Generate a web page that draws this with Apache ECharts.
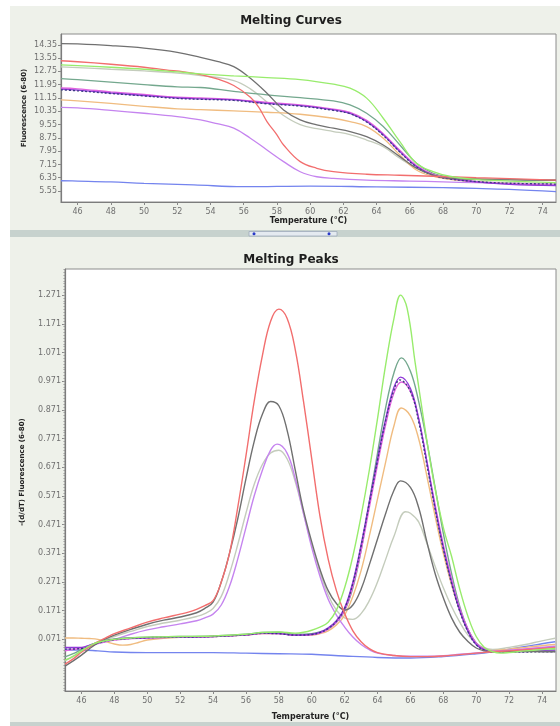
<!DOCTYPE html>
<html>
<head>
<meta charset="utf-8">
<script src="https://cdn.jsdelivr.net/npm/echarts@6/dist/echarts.min.js"></script>
<style>html,body{margin:0;padding:0;background:#fff}#c{width:560px;height:726px}</style>
</head>
<body>
<div id="c"></div>
<script>
// ---- tick labels ----
const tempTicks = [46,48,50,52,54,56,58,60,62,64,66,68,70,72,74];
const fluorTicks = [14.35,13.55,12.75,11.95,11.15,10.35,9.55,8.75,7.95,7.15,6.35,5.55];
const peakTicks = [1.271,1.171,1.071,0.971,0.871,0.771,0.671,0.571,0.471,0.371,0.271,0.171,0.071];

// ---- Melting curves: fluorescence vs temperature ----
const curveDarkGrey = [[45,14.42],[46,14.4],[48,14.3],[50,14.15],[52,13.9],[53.4,13.6],[54.4,13.35],[55.4,13.04],[56.4,12.34],[57.4,11.44],[58.4,10.43],[59.4,9.83],[60.4,9.53],[61.4,9.33],[62.4,9.13],[63.4,8.82],[64.4,8.32],[65.4,7.62],[66.4,6.92],[67.4,6.51],[68.4,6.31],[70,6.25],[72,6.22],[74.8,6.2]];
const curveRed = [[45,13.39],[46,13.33],[48,13.18],[50,13.0],[51.3,12.84],[52.4,12.72],[53.4,12.56],[54.4,12.3],[55.4,11.9],[56.4,11.2],[56.9,10.6],[57.4,9.73],[58,8.93],[58.4,8.32],[59.4,7.32],[60.4,6.92],[61.4,6.72],[63.4,6.56],[65.4,6.5],[67.4,6.44],[70,6.35],[72,6.3],[74.8,6.21]];
const curveGreen = [[45,13.14],[46,13.1],[48,13.0],[50,12.88],[52,12.72],[53.4,12.6],[55.4,12.48],[57.4,12.38],[59.4,12.26],[61.4,11.98],[62.4,11.74],[63.4,11.14],[64.4,9.93],[65.4,8.52],[66.4,7.22],[67.4,6.72],[68.4,6.44],[70,6.25],[72,6.15],[74.8,6.05]];
const curveLightGrey = [[45,13.02],[46,12.98],[48,12.88],[50,12.78],[52,12.65],[53.4,12.5],[55.4,12.2],[56.4,11.7],[57.4,10.9],[58.4,10.1],[59.4,9.55],[60.4,9.3],[61.4,9.13],[62.4,8.95],[63.4,8.62],[64.4,8.22],[65.4,7.52],[66.4,6.92],[67.4,6.51],[68.4,6.3],[70,6.15],[72,6.05],[74.8,5.98]];
const curveTeal = [[45,12.32],[46,12.25],[48,12.1],[50,11.95],[52,11.82],[53.4,11.78],[55.4,11.55],[57.4,11.34],[59.4,11.17],[61.4,10.97],[62.4,10.73],[63.4,10.23],[64.4,9.43],[65.4,8.32],[66.4,7.22],[67.4,6.62],[68.4,6.4],[70,6.3],[72,6.25],[74.8,6.2]];
const curveViolet = [[45,11.68],[46,11.62],[48,11.45],[50,11.3],[52,11.15],[53.4,11.1],[55.4,11.03],[57.4,10.83],[59.4,10.69],[61.4,10.43],[62.4,10.23],[63.4,9.73],[64.4,8.93],[65.4,7.92],[66.4,7.02],[67.4,6.51],[68.4,6.3],[70,6.1],[72,5.95],[74.8,5.88]];
const curveMagenta = [[45,11.75],[46,11.7],[48,11.52],[50,11.36],[52,11.2],[53.4,11.15],[55.4,11.07],[57.4,10.88],[59.4,10.74],[61.4,10.48],[62.4,10.28],[63.4,9.8],[64.4,9.0],[65.4,8.0],[66.4,7.08],[67.4,6.55],[68.4,6.33],[70,6.1],[72,5.98],[74.8,5.9]];
const curveNavy = [[45,11.64],[46,11.58],[48,11.42],[50,11.27],[52,11.12],[53.4,11.07],[55.4,11.0],[57.4,10.8],[59.4,10.66],[61.4,10.4],[62.4,10.2],[63.4,9.7],[64.4,8.9],[65.4,7.9],[66.4,7.0],[67.4,6.5],[68.4,6.28],[70,6.12],[72,6.02],[74.8,5.97]];
const curveOrange = [[45,11.03],[46,10.97],[48,10.82],[50,10.65],[52,10.5],[53.4,10.45],[55.4,10.37],[57.4,10.29],[59.4,10.17],[61.4,9.93],[62.4,9.73],[63.4,9.43],[64.4,8.73],[65.4,7.72],[66.4,6.82],[67.4,6.44],[68.4,6.25],[70,6.1],[72,6.0],[74.8,5.92]];
const curveLavender = [[45,10.59],[46,10.55],[48,10.4],[50,10.23],[52,10.03],[53.4,9.83],[54.4,9.6],[55.4,9.33],[56.4,8.73],[57.4,8.02],[58.4,7.32],[59.4,6.71],[60.4,6.41],[61.4,6.31],[63.4,6.21],[66,6.15],[68,6.1],[70,6.05],[72,6.0],[74.8,5.95]];
const curveBlue = [[45,6.17],[46,6.15],[48,6.1],[50,6.01],[53,5.92],[56,5.81],[60,5.85],[64,5.8],[68,5.75],[70,5.71],[72,5.65],[74.8,5.51]];

// ---- Melting peaks: -(d/dT) fluorescence vs temperature ----
const peakRed = [[45,-0.016],[45.5,0.002],[46,0.025],[46.5,0.045],[47,0.062],[47.5,0.076],[48,0.09],[49,0.11],[50,0.13],[51,0.145],[52,0.158],[52.5,0.165],[53,0.175],[53.5,0.188],[54,0.205],[54.5,0.27],[55,0.37],[55.5,0.53],[56,0.71],[56.5,0.9],[57,1.06],[57.5,1.18],[58,1.222],[58.5,1.19],[59,1.08],[59.5,0.9],[60,0.7],[60.5,0.5],[61,0.35],[61.5,0.24],[62,0.16],[62.5,0.1],[63,0.062],[63.5,0.038],[64,0.024],[65,0.014],[66,0.01],[67,0.01],[68,0.012],[69,0.017],[70,0.022],[71,0.027],[72,0.03],[73,0.034],[74,0.038],[74.8,0.042]];
const peakDarkGrey = [[45,-0.023],[45.5,-0.005],[46,0.015],[46.5,0.038],[47,0.058],[47.5,0.073],[48,0.085],[49,0.105],[50,0.123],[51,0.137],[52,0.148],[53,0.163],[53.5,0.178],[54,0.2],[54.5,0.27],[55,0.37],[55.5,0.49],[56,0.63],[56.5,0.76],[57,0.855],[57.5,0.9],[58,0.885],[58.5,0.8],[59,0.66],[59.5,0.52],[60,0.41],[60.5,0.315],[61,0.24],[61.5,0.195],[62,0.172],[62.5,0.19],[63,0.245],[63.5,0.33],[64,0.42],[64.5,0.51],[65,0.59],[65.4,0.623],[66,0.6],[66.5,0.53],[67,0.41],[67.5,0.3],[68,0.215],[68.5,0.145],[69,0.095],[69.5,0.063],[70,0.04],[70.5,0.03],[71,0.027],[72,0.028],[73,0.028],[74,0.027],[74.8,0.027]];
const peakLavender = [[45,0.04],[46,0.04],[46.5,0.045],[47,0.055],[48,0.07],[49,0.088],[50,0.103],[51,0.114],[52,0.124],[53,0.135],[53.5,0.145],[54,0.158],[54.5,0.19],[55,0.255],[55.5,0.35],[56,0.46],[56.5,0.57],[57,0.66],[57.5,0.73],[57.9,0.751],[58.5,0.72],[59,0.63],[59.5,0.51],[60,0.39],[60.5,0.29],[61,0.21],[61.5,0.155],[62,0.113],[62.5,0.078],[63,0.052],[63.5,0.034],[64,0.022],[65,0.014],[66,0.011],[67,0.011],[68,0.013],[69,0.018],[70,0.023],[71,0.028],[72,0.032],[73,0.037],[74,0.042],[74.8,0.046]];
const peakLightGrey = [[45,-0.005],[45.5,0.01],[46,0.028],[47,0.058],[48,0.08],[49,0.098],[50,0.115],[51,0.127],[52,0.137],[53,0.15],[53.5,0.16],[54,0.178],[54.5,0.22],[55,0.3],[55.5,0.4],[56,0.51],[56.5,0.61],[57,0.68],[57.5,0.72],[58,0.73],[58.5,0.7],[59,0.62],[59.5,0.51],[60,0.4],[60.5,0.305],[61,0.225],[61.5,0.172],[62,0.145],[62.5,0.14],[63,0.16],[63.5,0.205],[64,0.27],[64.5,0.35],[65,0.43],[65.7,0.515],[66,0.51],[66.5,0.48],[67,0.405],[67.5,0.325],[68,0.25],[68.5,0.185],[69,0.13],[69.5,0.085],[70,0.056],[70.5,0.04],[71,0.035],[72,0.042],[73,0.052],[74,0.065],[74.8,0.074]];
const peakGreen = [[45,-0.002],[45.5,0.012],[46,0.03],[46.5,0.047],[47,0.06],[48,0.07],[49,0.075],[50,0.078],[52,0.08],[54,0.082],[56,0.088],[57,0.094],[58,0.096],[59,0.092],[59.5,0.095],[60,0.102],[60.5,0.113],[61,0.13],[61.5,0.172],[62,0.25],[62.5,0.36],[63,0.5],[63.5,0.66],[64,0.84],[64.5,1.03],[65,1.19],[65.4,1.271],[65.8,1.225],[66.3,1.03],[66.9,0.8],[67.4,0.626],[68,0.46],[68.5,0.36],[69,0.245],[69.5,0.15],[70,0.08],[70.5,0.042],[71,0.027],[71.5,0.022],[72,0.024],[73,0.03],[74,0.035],[74.8,0.038]];
const peakTeal = [[45,0.009],[45.5,0.02],[46,0.035],[47,0.06],[48,0.072],[50,0.078],[52,0.08],[54,0.082],[56,0.088],[57,0.094],[58,0.095],[59,0.088],[60,0.09],[60.5,0.096],[61,0.107],[61.5,0.13],[62,0.17],[62.5,0.25],[63,0.38],[63.5,0.55],[64,0.72],[64.5,0.88],[65,1.0],[65.45,1.052],[66,1.005],[66.5,0.9],[67,0.76],[67.5,0.6],[68,0.44],[68.5,0.3],[69,0.185],[69.5,0.105],[70,0.057],[70.5,0.035],[71,0.027],[72,0.028],[73,0.03],[74,0.032],[74.8,0.033]];
const peakViolet = [[45,0.042],[46,0.042],[46.5,0.05],[47,0.058],[48,0.07],[50,0.076],[52,0.078],[54,0.08],[56,0.086],[57,0.092],[58,0.09],[59,0.085],[60,0.088],[60.5,0.095],[61,0.11],[61.5,0.135],[62,0.18],[62.5,0.27],[63,0.4],[63.5,0.55],[64,0.7],[64.5,0.84],[65,0.95],[65.4,0.985],[66,0.945],[66.5,0.84],[67,0.69],[67.5,0.53],[68,0.39],[68.5,0.27],[69,0.17],[69.5,0.098],[70,0.052],[70.5,0.033],[71,0.027],[72,0.027],[73,0.028],[74,0.03],[74.8,0.03]];
const peakMagenta = [[45,0.03],[45.5,0.035],[46,0.04],[47,0.056],[48,0.068],[50,0.075],[52,0.078],[54,0.08],[56,0.085],[57,0.09],[58,0.09],[59,0.084],[60,0.086],[60.5,0.092],[61,0.106],[61.5,0.13],[62,0.172],[62.5,0.255],[63,0.38],[63.5,0.53],[64,0.68],[64.5,0.82],[65,0.93],[65.45,0.968],[66,0.935],[66.5,0.84],[67,0.69],[67.5,0.54],[68,0.4],[68.5,0.28],[69,0.178],[69.5,0.105],[70,0.057],[70.5,0.036],[71,0.029],[72,0.031],[73,0.036],[74,0.04],[74.8,0.043]];
const peakNavy = [[45,0.036],[46,0.038],[46.5,0.046],[47,0.057],[48,0.069],[50,0.076],[52,0.078],[54,0.08],[56,0.086],[57,0.091],[58,0.09],[59,0.085],[60,0.087],[60.5,0.094],[61,0.108],[61.5,0.133],[62,0.178],[62.5,0.265],[63,0.395],[63.5,0.545],[64,0.695],[64.5,0.835],[65,0.94],[65.35,0.975],[66,0.935],[66.5,0.83],[67,0.68],[67.5,0.525],[68,0.385],[68.5,0.265],[69,0.168],[69.5,0.097],[70,0.051],[70.5,0.032],[71,0.026],[72,0.026],[73,0.026],[74,0.027],[74.8,0.027]];
const peakOrange = [[45,0.075],[45.5,0.075],[46,0.074],[46.5,0.073],[47,0.07],[47.5,0.062],[48,0.054],[48.5,0.05],[49,0.052],[49.5,0.06],[50,0.068],[51,0.074],[52,0.077],[54,0.08],[56,0.085],[57,0.09],[58,0.09],[59,0.085],[60,0.085],[60.5,0.09],[61,0.1],[61.5,0.12],[62,0.155],[62.5,0.22],[63,0.31],[63.5,0.43],[64,0.56],[64.5,0.69],[65,0.815],[65.45,0.877],[66,0.85],[66.5,0.77],[67,0.64],[67.5,0.5],[68,0.37],[68.5,0.26],[69,0.17],[69.5,0.1],[70,0.056],[70.5,0.036],[71,0.031],[72,0.036],[73,0.042],[74,0.048],[74.8,0.052]];
const peakBlue = [[45,0.033],[46,0.033],[47,0.03],[48,0.026],[50,0.024],[52,0.024],[54,0.024],[56,0.022],[58,0.02],[60,0.018],[62,0.012],[64,0.007],[66,0.005],[68,0.01],[70,0.02],[71,0.027],[72,0.036],[73,0.045],[74,0.055],[74.8,0.062]];

// ---- sample styling ----
const samples = [
  {c:'#7484ee', top:curveBlue,      bot:peakBlue},
  {c:'#c4ccbc', top:curveLightGrey, bot:peakLightGrey},
  {c:'#f0bc80', top:curveOrange,    bot:peakOrange},
  {c:'#c584ef', top:curveLavender,  bot:peakLavender},
  {c:'#74a88e', top:curveTeal,      bot:peakTeal},
  {c:'#e264e0', top:curveMagenta,   bot:peakMagenta},
  {c:'#9038d8', top:curveViolet,    bot:peakViolet},
  {c:'#3a3a80', top:curveNavy,      bot:peakNavy, dash:true},
  {c:'#707070', top:curveDarkGrey,  bot:peakDarkGrey},
  {c:'#f26e6e', top:curveRed,       bot:peakRed},
  {c:'#98ec6c', top:curveGreen,     bot:peakGreen}
];

const minorPeak = [];
for (let k = -18; k <= 129; k++) minorPeak.push(+(0.071 + k * 0.01).toFixed(3));

const FONT = 'DejaVu Sans';
const lab = (digits, margin) => ({color:'#707070', fontFamily:FONT, fontSize:8, margin:margin,
  formatter: v => Number(v).toFixed(digits)});
const axLine = {show:true, onZero:false, lineStyle:{color:'#7c7c7c', width:1.2}};

function xAx(grid, max, gap) {
  return {type:'value', gridIndex:grid, min:45, max:max, position:'bottom',
    name:'Temperature (°C)', nameLocation:'middle', nameGap:gap,
    nameTextStyle:{fontFamily:FONT, fontWeight:'bold', fontSize:8, color:'#222'},
    axisLine:axLine, splitLine:{show:false},
    axisTick:{show:true, length:3, customValues:tempTicks, lineStyle:{color:'#888'}},
    axisLabel:Object.assign(lab(0,6), {customValues:tempTicks})};
}
function yAx(grid, min, max, ticks, digits) {
  return {type:'value', gridIndex:grid, min:min, max:max, position:'left',
    axisLine:axLine, splitLine:{show:false},
    axisTick:{show:true, length:3, customValues:ticks, lineStyle:{color:'#888'}},
    axisLabel:Object.assign(lab(digits,4), {customValues:ticks})};
}

const series = [];
samples.forEach(s => {
  series.push({type:'line', xAxisIndex:0, yAxisIndex:0, data:s.top, smooth:0.4, symbol:'none',
    silent:true, lineStyle:{color:s.c, width:1.3, type: s.dash ? [2,2] : 'solid'}});
});
samples.forEach(s => {
  series.push({type:'line', xAxisIndex:1, yAxisIndex:1, data:s.bot, smooth:0.4, symbol:'none',
    silent:true, lineStyle:{color:s.c, width:1.4, type: s.dash ? [2,2] : 'solid'}});
});

const chart = echarts.init(document.getElementById('c'), null, {renderer:'canvas'});
chart.setOption({
  animation:false,
  backgroundColor:'#ffffff',
  graphic:[
    {type:'rect', z:-10, shape:{x:10,y:6,width:550,height:224}, style:{fill:'#eef1ea'}},
    {type:'rect', z:-10, shape:{x:10,y:230,width:550,height:7}, style:{fill:'#c7d2ce'}},
    {type:'rect', z:-9, shape:{x:249,y:231.5,width:88,height:4.5}, style:{fill:'#e4eaf0', stroke:'#9eabbb', lineWidth:0.8}},
    {type:'circle', z:-8, shape:{cx:254,cy:233.8,r:1.5}, style:{fill:'#2a3ac8'}},
    {type:'circle', z:-8, shape:{cx:329,cy:233.8,r:1.5}, style:{fill:'#2a3ac8'}},
    {type:'rect', z:-10, shape:{x:10,y:237,width:550,height:485}, style:{fill:'#eef1ea'}},
    {type:'rect', z:-10, shape:{x:10,y:722,width:550,height:4}, style:{fill:'#c7d2ce'}},
    {type:'text', z:20, x:24, y:108, rotation:Math.PI/2,
      style:{text:'Fluorescence (6-80)', align:'center', verticalAlign:'middle',
        font:'bold 7px "DejaVu Sans"', fill:'#222'}},
    {type:'text', z:20, x:22, y:472, rotation:Math.PI/2,
      style:{text:'-(d/dT) Fluorescence (6-80)', align:'center', verticalAlign:'middle',
        font:'bold 7px "DejaVu Sans"', fill:'#222'}}
  ],
  title:[
    {text:'Melting Curves', left:286, top:10, textAlign:'center',
      textStyle:{fontFamily:FONT, fontWeight:'bold', fontSize:12, color:'#1e1e1e'}},
    {text:'Melting Peaks', left:286, top:249, textAlign:'center',
      textStyle:{fontFamily:FONT, fontWeight:'bold', fontSize:12, color:'#1e1e1e'}}
  ],
  grid:[
    {left:61, top:34, width:495, height:168, show:true, backgroundColor:'#ffffff', borderColor:'#8c8c8c', borderWidth:1},
    {left:65, top:269, width:491, height:422, show:true, backgroundColor:'#ffffff', borderColor:'#8c8c8c', borderWidth:1}
  ],
  xAxis:[ xAx(0, 74.8, 15), xAx(1, 74.85, 22) ],
  yAxis:[
    yAx(0, 4.89, 15.0, fluorTicks, 2),
    yAx(1, -0.11, 1.362, peakTicks, 3),
    {type:'value', gridIndex:1, min:-0.11, max:1.362, position:'left', offset:0,
      axisLine:{show:false, onZero:false}, splitLine:{show:false},
      axisLabel:{show:false}, axisTick:{show:true, length:1.5, customValues:minorPeak, lineStyle:{color:'#999'}}}
  ],
  series:series
});
</script>
</body>
</html>
